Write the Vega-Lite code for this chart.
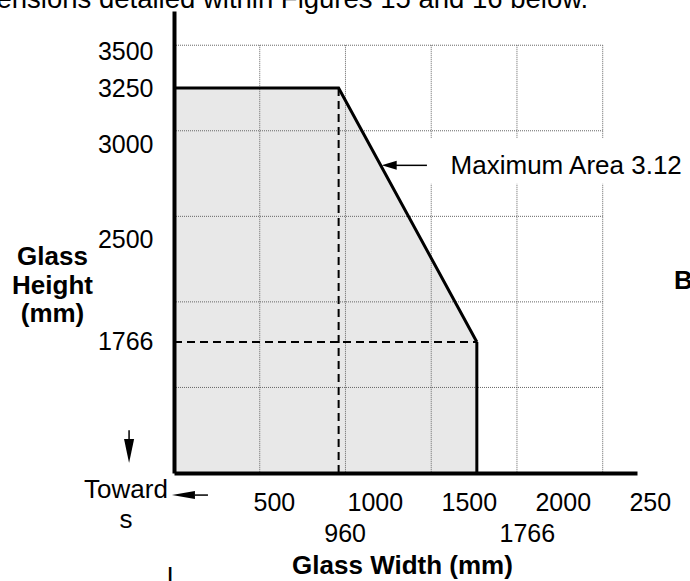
{
  "$schema": "https://vega.github.io/schema/vega-lite/v6.json",
  "width": 463,
  "height": 462,
  "autosize": "none",
  "padding": {"left": 174, "top": 11, "right": 53, "bottom": 108},
  "background": "white",
  "config": {"view": {"stroke": null}, "font": "Liberation Sans"},
  "layer": [
    {
      "data": {"values": [{"width": 0, "height": 3250, "base": 1000}, {"width": 960, "height": 3250, "base": 1000}, {"width": 1766, "height": 1766, "base": 1000}]},
      "mark": {"type": "area", "color": "#e8e8e8"},
      "encoding": {
        "x": {
          "field": "width", "type": "quantitative",
          "scale": {"domain": [0, 2700], "nice": false, "zero": false},
          "axis": {
            "title": "Glass Width (mm)",
            "zindex": 2,
            "values": [500, 960, 1000, 1500, 1766, 2000, 2500],
            "format": "d",
            "labelExpr": "datum.value == 2500 ? '250' : datum.label",
            "grid": false, "ticks": false, "tickSize": 0,
            "domainColor": "black", "domainWidth": 4,
            "labelFont": "Liberation Sans", "labelFontSize": 25, "labelColor": "black",
            "labelOverlap": false, "labelFlush": false, "labelBound": false,
            "labelBaseline": "alphabetic",
            "labelAlign": {"expr": "datum.value == 960 || datum.value == 1766 ? 'center' : 'left'"},
            "labelPadding": {"expr": "datum.value == 960 || datum.value == 1766 ? 68.7 : 37.7"},
            "labelOffset": {"expr": "datum.value == 960 ? 6 : datum.value == 1766 ? 50 : -15 + datum.value * 0.0165"},
            "titleFont": "Liberation Sans", "titleFontSize": 26, "titleFontWeight": "bold", "titleColor": "black",
            "titleBaseline": "alphabetic", "titleY": 100, "titleX": 228
          }
        },
        "y": {
          "field": "height", "type": "quantitative",
          "scale": {"domain": [1000, 3700], "nice": false, "zero": false},
          "axis": {
            "title": ["Glass", "Height", "(mm)"],
            "zindex": 2,
            "values": [1766, 2500, 3000, 3250, 3500],
            "format": "d",
            "grid": false, "ticks": false, "tickSize": 0,
            "domainColor": "black", "domainWidth": 4,
            "labelFont": "Liberation Sans", "labelFontSize": 25, "labelColor": "black",
            "labelOverlap": false, "labelFlush": false, "labelBound": false,
            "labelPadding": 21, "labelBaseline": "middle",
            "labelOffset": {"expr": "datum.value == 3000 ? 14 : datum.value == 2500 ? 23 : datum.value == 3500 ? 6 : 0"},
            "titleFont": "Liberation Sans", "titleFontSize": 26, "titleFontWeight": "bold", "titleColor": "black",
            "titleAngle": 0, "titleAlign": "center", "titleBaseline": "middle",
            "titleX": -122, "titleY": 245.5, "titleLineHeight": 28.5
          }
        },
        "y2": {"field": "base"}
      }
    },
    {
      "data": {"values": [{"g": 500, "top": 3500}, {"g": 1000, "top": 3500}, {"g": 1500, "top": 3500}, {"g": 2000, "top": 3500}, {"g": 2500, "top": 3500}]},
      "mark": {"type": "rule", "stroke": "#666666", "strokeWidth": 1, "strokeDash": [1, 1]},
      "encoding": {
        "x": {"field": "g", "type": "quantitative"},
        "y": {"field": "top", "type": "quantitative"},
        "y2": {"value": "height"}
      }
    },
    {
      "data": {"values": [{"g": 1500, "from": 0, "to": 2500}, {"g": 2000, "from": 0, "to": 2500}, {"g": 2500, "from": 0, "to": 2500}, {"g": 3000, "from": 0, "to": 2500}, {"g": 3500, "from": 0, "to": 2500}]},
      "mark": {"type": "rule", "stroke": "#666666", "strokeWidth": 1, "strokeDash": [1, 1]},
      "encoding": {
        "y": {"field": "g", "type": "quantitative"},
        "x": {"field": "from", "type": "quantitative"},
        "x2": {"field": "to"}
      }
    },
    {
      "data": {"values": [{"x": 1475, "x2": 2600, "y": 2690, "y2": 2958}]},
      "mark": {"type": "rect", "color": "white"},
      "encoding": {
        "x": {"field": "x", "type": "quantitative"},
        "x2": {"field": "x2"},
        "y": {"field": "y", "type": "quantitative"},
        "y2": {"field": "y2"}
      }
    },
    {
      "data": {"values": [{"width": 960, "height": 3250}]},
      "mark": {"type": "rule", "stroke": "black", "strokeWidth": 2, "strokeDash": [8, 5]},
      "encoding": {
        "x": {"field": "width", "type": "quantitative"},
        "y": {"field": "height", "type": "quantitative"},
        "y2": {"value": "height"}
      }
    },
    {
      "data": {"values": [{"from": 0, "width": 1766, "height": 1766}]},
      "mark": {"type": "rule", "stroke": "black", "strokeWidth": 2, "strokeDash": [8, 5]},
      "encoding": {
        "y": {"field": "height", "type": "quantitative"},
        "x": {"field": "from", "type": "quantitative"},
        "x2": {"field": "width"}
      }
    },
    {
      "data": {"values": [{"width": 0, "height": 3250}, {"width": 960, "height": 3250}, {"width": 1766, "height": 1766}]},
      "mark": {"type": "line", "stroke": "black", "strokeWidth": 3, "strokeJoin": "miter"},
      "encoding": {
        "x": {"field": "width", "type": "quantitative"},
        "y": {"field": "height", "type": "quantitative"}
      }
    },
    {
      "data": {"values": [{"width": 1766, "height": 1766}]},
      "mark": {"type": "rule", "stroke": "black", "strokeWidth": 3},
      "encoding": {
        "x": {"field": "width", "type": "quantitative"},
        "y": {"field": "height", "type": "quantitative"},
        "y2": {"value": "height"}
      }
    },
    {
      "data": {"values": [{"x": 1289, "x2": 1475, "y": 2798}, {"x": 122, "x2": 198, "y": 871}]},
      "mark": {"type": "rule", "stroke": "black", "strokeWidth": 1.5},
      "encoding": {
        "x": {"field": "x", "type": "quantitative"},
        "x2": {"field": "x2"},
        "y": {"field": "y", "type": "quantitative"}
      }
    },
    {
      "data": {"values": [{"x": -262, "y": 1250, "y2": 1190}]},
      "mark": {"type": "rule", "stroke": "black", "strokeWidth": 1.5},
      "encoding": {
        "x": {"field": "x", "type": "quantitative"},
        "y": {"field": "y", "type": "quantitative"},
        "y2": {"field": "y2"}
      }
    },
    {
      "data": {"values": [{"x": 1255, "y": 2798}]},
      "mark": {"type": "point", "shape": "M-1,0L1,-0.6L1,0.6Z", "size": 225, "filled": true, "color": "black", "opacity": 1},
      "encoding": {
        "x": {"field": "x", "type": "quantitative"},
        "y": {"field": "y", "type": "quantitative"}
      }
    },
    {
      "data": {"values": [{"x": 55, "y": 871}]},
      "mark": {"type": "point", "shape": "M-1,0L1,-0.35L1,0.35Z", "size": 529, "filled": true, "color": "black", "opacity": 1},
      "encoding": {
        "x": {"field": "x", "type": "quantitative"},
        "y": {"field": "y", "type": "quantitative"}
      }
    },
    {
      "data": {"values": [{"x": -262, "y": 1128}]},
      "mark": {"type": "point", "shape": "M0,1L-0.42,-1L0.42,-1Z", "size": 576, "filled": true, "color": "black", "opacity": 1},
      "encoding": {
        "x": {"field": "x", "type": "quantitative"},
        "y": {"field": "y", "type": "quantitative"}
      }
    },
    {
      "data": {"values": [
        {"x": 1613, "y": 2747, "text": "Maximum Area 3.12"}
      ]},
      "mark": {"type": "text", "align": "left", "baseline": "alphabetic", "font": "Liberation Sans", "fontSize": 26, "color": "black"},
      "encoding": {
        "x": {"field": "x", "type": "quantitative"},
        "y": {"field": "y", "type": "quantitative"},
        "text": {"field": "text", "type": "nominal"}
      }
    },
    {
      "data": {"values": [
        {"x": -1035, "y": 3717, "text": "ensions detailed within Figures 15 and 16 below."}
      ]},
      "mark": {"type": "text", "align": "left", "baseline": "alphabetic", "font": "Liberation Sans", "fontSize": 27.5, "color": "black"},
      "encoding": {
        "x": {"field": "x", "type": "quantitative"},
        "y": {"field": "y", "type": "quantitative"},
        "text": {"field": "text", "type": "nominal"}
      }
    },
    {
      "data": {"values": [{"x": 2916, "y": 2074, "text": "B"}]},
      "mark": {"type": "text", "align": "left", "baseline": "alphabetic", "font": "Liberation Sans", "fontSize": 26, "fontWeight": "bold", "color": "black"},
      "encoding": {
        "x": {"field": "x", "type": "quantitative"},
        "y": {"field": "y", "type": "quantitative"},
        "text": {"field": "text", "type": "nominal"}
      }
    },
    {
      "data": {"values": [
        {"x": -280, "y": 854, "text": "Toward"},
        {"x": -280, "y": 679, "text": "s"},
        {"x": -23, "y": 345, "text": "I"}
      ]},
      "mark": {"type": "text", "align": "center", "baseline": "alphabetic", "font": "Liberation Sans", "fontSize": 26, "color": "black"},
      "encoding": {
        "x": {"field": "x", "type": "quantitative"},
        "y": {"field": "y", "type": "quantitative"},
        "text": {"field": "text", "type": "nominal"}
      }
    }
  ]
}
